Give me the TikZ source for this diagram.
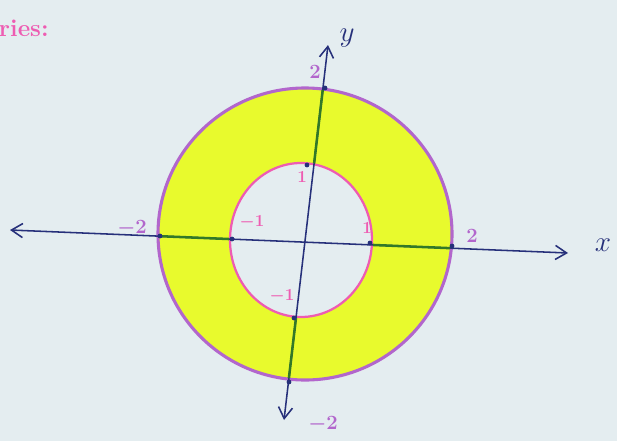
\documentclass[tikz,border=0pt]{standalone}
\usepackage{tikz}
\usetikzlibrary{arrows.meta}

\definecolor{paper}{RGB}{228,237,240}
\definecolor{hlyellow}{RGB}{232,250,45}
\definecolor{penpurple}{RGB}{178,102,204}
\definecolor{penpink}{RGB}{238,92,178}
\definecolor{penblue}{RGB}{38,48,122}
\definecolor{pengreen}{RGB}{50,120,40}

\tikzset{
  axis/.style={penblue, line width=1.1pt,
    {Straight Barb[length=8pt,width=10pt]}-{Straight Barb[length=8pt,width=10pt]}},
  outerlbl/.style={penpurple, font=\Large\bfseries\boldmath},
  innerlbl/.style={penpink, font=\large\bfseries\boldmath},
  axislbl/.style={penblue, font=\huge}
}

\begin{document}
\begin{tikzpicture}[x=0.025cm, y=-0.025cm]
  \fill[paper] (0,0) rectangle (617,441);
  \useasboundingbox (0,0) rectangle (617,441);

  \coordinate (co) at (305,234);
  \coordinate (ci) at (301,240);

  % shaded region
  \fill[hlyellow, even odd rule] (co) ellipse [x radius=147, y radius=146]
                                 (ci) ellipse [x radius=71, y radius=77];
  \draw[penpurple, line width=2.2pt] (co) ellipse [x radius=147, y radius=146];
  \draw[penpink, line width=1.6pt] (ci) ellipse [x radius=71, y radius=77];

  % axes
  \coordinate (xl) at (10,230);
  \coordinate (xr) at (568,253);
  \coordinate (yt) at (328,45);
  \coordinate (yb) at (284,420);
  \draw[axis] (xl) -- (xr);
  \draw[axis] (yb) -- (yt);

  \begin{scope}[even odd rule]
    \clip (co) ellipse [x radius=146, y radius=145]
          (ci) ellipse [x radius=72, y radius=78];
    \draw[pengreen, line width=1.8pt] (xl) -- (xr);
    \draw[pengreen, line width=1.8pt] (yt) -- (yb);
  \end{scope}

  % marks
  \foreach \p in {(160,236),(232,239),(370,243),(452,246),(325,88),(307,165),(294,318),(289,382)}
    \fill[penblue] \p circle (2.4);

  % labels
  \node[penpink, anchor=west, font=\LARGE\bfseries] (ans) at (-6,28) {ries:};
  \node[axislbl] (ylbl) at (347,38) {$y$};
  \node[axislbl] (xlbl) at (603,245) {$x$};
  \node[outerlbl] (ytop) at (315,72) {2};
  \node[outerlbl] (xneg) at (132,228) {$-2$};
  \node[outerlbl] (xpos) at (472,236) {2};
  \node[outerlbl] (yneg) at (323,424) {$-2$};
  \node[innerlbl] (xin1) at (252,222) {$-1$};
  \node[innerlbl] (xip1) at (367,228) {1};
  \node[innerlbl] (yip1) at (302,177) {1};
  \node[innerlbl] (yin1) at (282,296) {$-1$};
\end{tikzpicture}
\end{document}
